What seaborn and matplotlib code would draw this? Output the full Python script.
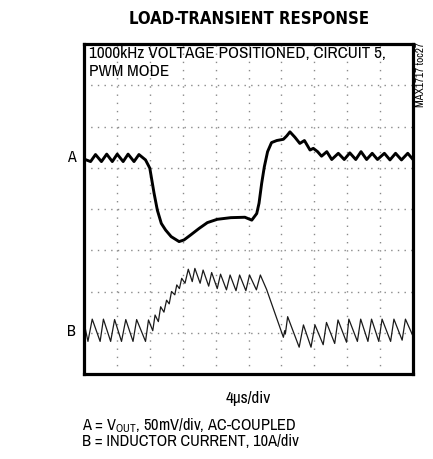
import matplotlib
matplotlib.use("Agg")
import matplotlib.pyplot as plt
import seaborn as sns
import pandas as pd

# ─── trace data (x in divisions, y in divisions) ──
a_x = [0.00, 0.20, 0.35, 0.53, 0.69, 0.86, 1.01, 1.19, 1.34, 1.52, 1.67,
       1.87, 2.00, 2.13, 2.23, 2.35, 2.48, 2.65, 2.89, 3.04, 3.24, 3.50,
       3.75, 4.05, 4.46, 4.89, 5.10, 5.25, 5.32, 5.40, 5.48, 5.58, 5.70,
       5.86, 6.06, 6.16, 6.26, 6.41, 6.56, 6.70, 6.87, 6.97, 7.10, 7.22,
       7.38, 7.53, 7.73, 7.91, 8.08, 8.26, 8.42, 8.59, 8.76, 8.92, 9.13,
       9.30, 9.47, 9.65, 9.84, 10.00]
a_y = [5.21, 5.15, 5.32, 5.15, 5.33, 5.15, 5.33, 5.15, 5.33, 5.15, 5.32,
       5.19, 4.99, 4.38, 3.97, 3.65, 3.49, 3.33, 3.21, 3.25, 3.37, 3.53,
       3.67, 3.75, 3.79, 3.80, 3.73, 3.89, 4.14, 4.62, 5.02, 5.39, 5.61,
       5.66, 5.69, 5.77, 5.87, 5.74, 5.59, 5.66, 5.43, 5.47, 5.39, 5.28,
       5.39, 5.20, 5.35, 5.20, 5.36, 5.20, 5.39, 5.20, 5.35, 5.20, 5.35,
       5.19, 5.35, 5.19, 5.35, 5.20]

b_x = [0.00, 0.12, 0.25, 0.49, 0.59, 0.81, 0.93, 1.14, 1.27, 1.49, 1.60,
       1.87, 1.96, 2.09, 2.16, 2.26, 2.33, 2.43, 2.51, 2.59, 2.66, 2.76,
       2.82, 2.90, 2.97, 3.07, 3.17, 3.29, 3.37, 3.53, 3.62, 3.79, 3.88,
       4.05, 4.15, 4.33, 4.44, 4.62, 4.73, 4.92, 5.03, 5.24, 5.36, 5.55,
       6.06, 6.10, 6.12, 6.19, 6.54, 6.67, 6.90, 7.02, 7.27, 7.37, 7.62,
       7.72, 7.98, 8.05, 8.31, 8.41, 8.63, 8.74, 8.96, 9.06, 9.32, 9.42,
       9.67, 9.77, 10.00]
b_y = [1.25, 0.79, 1.33, 0.79, 1.33, 0.79, 1.32, 0.79, 1.32, 0.79, 1.32,
       0.79, 1.31, 1.05, 1.43, 1.27, 1.63, 1.50, 1.79, 1.70, 2.00, 1.92,
       2.16, 2.07, 2.32, 2.20, 2.54, 2.24, 2.56, 2.20, 2.52, 2.13, 2.46,
       2.07, 2.42, 2.04, 2.40, 2.02, 2.40, 2.02, 2.40, 2.04, 2.40, 2.05,
       0.89, 1.05, 0.97, 1.39, 0.65, 1.19, 0.65, 1.19, 0.71, 1.25, 0.74,
       1.31, 0.77, 1.33, 0.79, 1.33, 0.79, 1.33, 0.79, 1.33, 0.79, 1.33,
       0.82, 1.33, 0.92]

title = "LOAD-TRANSIENT RESPONSE"
note_lines = ["1000kHz VOLTAGE POSITIONED, CIRCUIT 5,", "PWM MODE"]
trace_labels = ["A", "B"]
x_label = "4\u03bcs/div"
legend_lines = [r"A = V$_{\mathrm{OUT}}$, 50mV/div, AC-COUPLED",
                "B = INDUCTOR CURRENT, 10A/div"]
side_tag = "MAX1717 toc27"

# ─── style ───────────────────────────────────────────────────────────────
sns.set_style("white")
narrow = ["Archivo Narrow", "DejaVu Sans"]
plt.rcParams["font.family"] = narrow
plt.rcParams["text.color"] = "black"
plt.rcParams["mathtext.fontset"] = "custom"
plt.rcParams["mathtext.rm"] = "Archivo Narrow"

W, H = 433, 459
fig = plt.figure(figsize=(W / 100, H / 100), dpi=100)


def fx(px):
    return px / W


def fy(py):
    return 1 - py / H


ax = fig.add_axes([fx(84), fy(374), fx(413) - fx(84), fy(44) - fy(374)])

df_a = pd.DataFrame({"t": a_x, "v": a_y})
df_b = pd.DataFrame({"t": b_x, "v": b_y})
sns.lineplot(data=df_a, x="t", y="v", ax=ax, sort=False, estimator=None,
             color="black", linewidth=2.1)
sns.lineplot(data=df_b, x="t", y="v", ax=ax, sort=False, estimator=None,
             color="#1a1a1a", linewidth=0.9)

ax.set_xlim(0, 10)
ax.set_ylim(0, 8)
ax.set_xticks(range(11))
ax.set_yticks(range(9))
ax.set_xticklabels([])
ax.set_yticklabels([])
ax.tick_params(length=0)
ax.set_xlabel("")
ax.set_ylabel("")
ax.set_axisbelow(True)
ax.xaxis.grid(True, color="#8a8a8a", linewidth=1.0, linestyle=(0, (1, 4.9)))
ax.yaxis.grid(True, color="#8a8a8a", linewidth=1.0, linestyle=(0, (1, 3.8)))
for s in ax.spines.values():
    s.set_linewidth(2.3)
    s.set_color("black")

# ─── text ────────────────────────────────────────────────────────────────
fig.text(fx(249), fy(19), title, ha="center", va="center",
         fontsize=12, fontweight="bold",
         family="DejaVu Sans", fontstretch="condensed")
fig.text(fx(89), fy(53), note_lines[0], ha="left", va="center",
         fontsize=12.3)
fig.text(fx(89), fy(71), note_lines[1], ha="left", va="center",
         fontsize=12.3)
fig.text(fx(71), fy(158), trace_labels[0], ha="center", va="center",
         fontsize=11.5)
fig.text(fx(71), fy(332), trace_labels[1], ha="center", va="center",
         fontsize=11.5)
fig.text(fx(421), fy(42), side_tag, ha="center", va="top", rotation=90,
         fontsize=8)
fig.text(fx(248), fy(398), x_label, ha="center", va="center",
         fontsize=12.3)
fig.text(fx(82), fy(426), legend_lines[0], ha="left", va="center",
         fontsize=11.8)
fig.text(fx(82), fy(442), legend_lines[1], ha="left", va="center",
         fontsize=11.8)

fig.savefig("out.png", dpi=100)
